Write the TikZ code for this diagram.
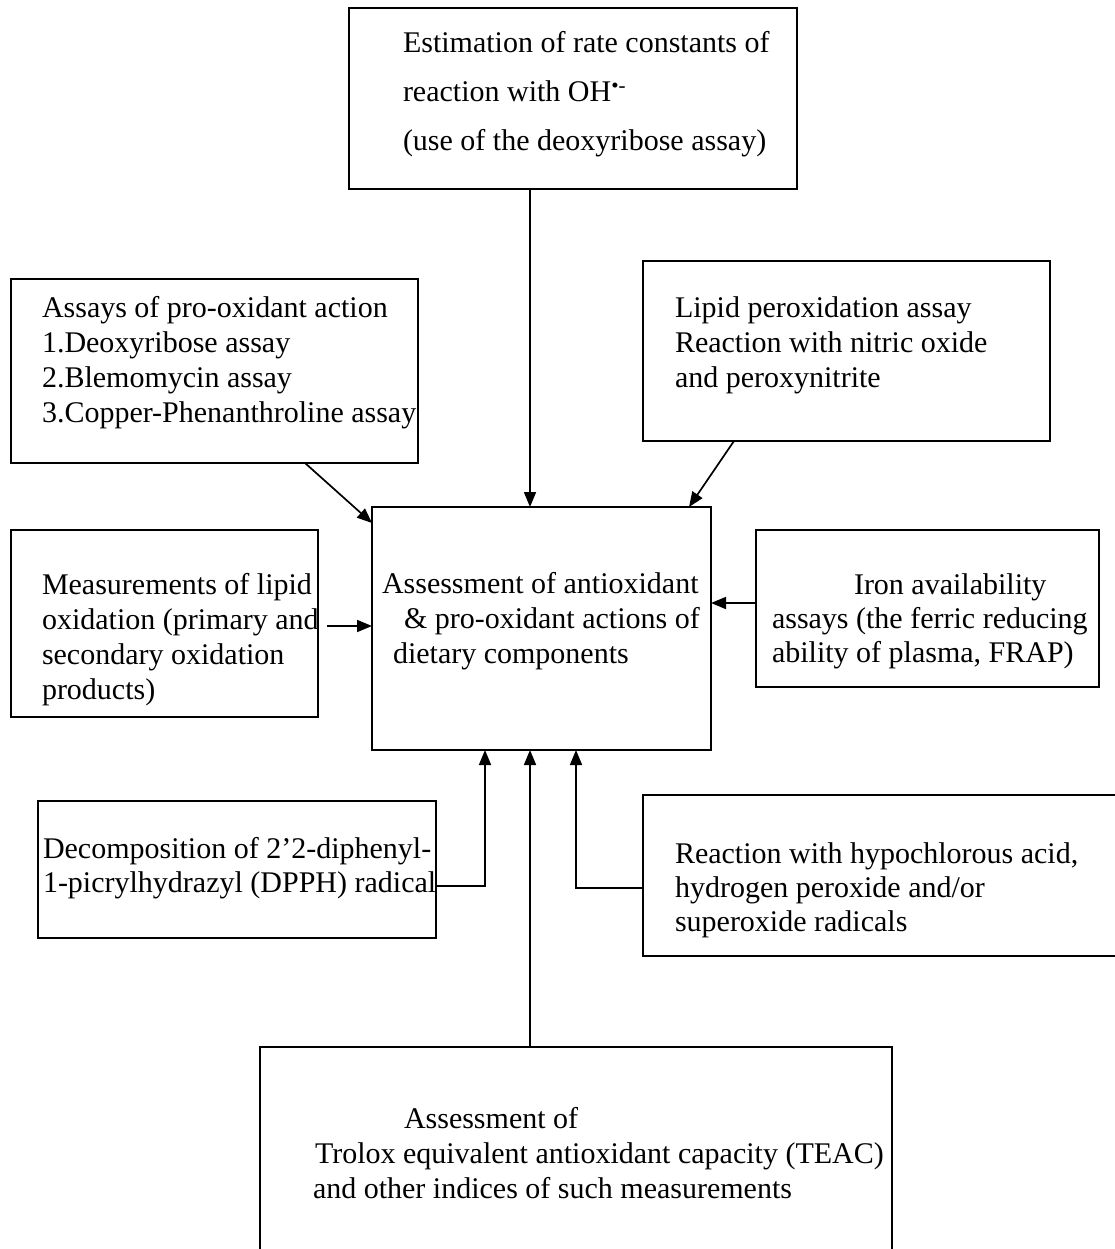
\documentclass[tikz,border=0pt]{standalone}
\usepackage{fontspec}
\setmainfont{Liberation Serif}
\usetikzlibrary{arrows.meta,calc}
\tikzset{
  box/.style={draw=black, line width=1.7pt, inner sep=0pt, outer sep=0pt, anchor=north west},
  txt/.style={inner sep=0pt, outer sep=0pt, anchor=base west, font=\fontsize{30}{35}\selectfont},
  arr/.style={draw=black, line width=1.7pt, -{Triangle[length=15pt,width=12pt]}},
  conn/.style={draw=black, line width=1.7pt}
}
\begin{document}
\begin{tikzpicture}[x=1pt,y=-1pt]
\useasboundingbox (0,0) rectangle (1114,1249);
% boxes
\node[box, minimum width=448pt, minimum height=181pt] (top) at (349,8) {};
\node[box, minimum width=407pt, minimum height=184pt] (assays) at (11,279) {};
\node[box, minimum width=407pt, minimum height=180pt] (lipid) at (643,261) {};
\node[box, minimum width=307pt, minimum height=187pt] (meas) at (11,530) {};
\node[box, minimum width=339pt, minimum height=243pt] (main) at (372,507) {};
\node[box, minimum width=343pt, minimum height=157pt] (iron) at (756,530) {};
\node[box, minimum width=398pt, minimum height=137pt] (decomp) at (38,801) {};
\node[box, minimum width=480pt, minimum height=161pt] (react) at (643,795) {};
\node[box, minimum width=632pt, minimum height=230pt] (bottom) at (260,1047) {};
% texts
\node[txt] (top1) at (403,53) {Estimation of rate constants of};
\node[txt] (top2) at (403,102) {reaction with OH\textsuperscript{•-}};
\node[txt] (top3) at (403,151) {(use of the deoxyribose assay)};
\node[txt] (as1) at (42,317) {Assays of pro-oxidant action};
\node[txt] (as2) at (42,352) {1.Deoxyribose assay};
\node[txt] (as3) at (42,387) {2.Blemomycin assay};
\node[txt] (as4) at (42,422) {3.Copper-Phenanthroline assay};
\node[txt] (li1) at (675,317) {Lipid peroxidation assay};
\node[txt] (li2) at (675,352) {Reaction with nitric oxide};
\node[txt] (li3) at (675,387) {and peroxynitrite};
\node[txt] (me1) at (42,594) {Measurements of lipid};
\node[txt] (me2) at (42,629) {oxidation (primary and};
\node[txt] (me3) at (42,664) {secondary oxidation};
\node[txt] (me4) at (42,699) {products)};
\node[txt] (ma1) at (382,593) {Assessment of antioxidant};
\node[txt] (ma2) at (404,628) {\& pro-oxidant actions of};
\node[txt] (ma3) at (393,663) {dietary components};
\node[txt] (ir1) at (854,594) {Iron availability};
\node[txt] (ir2) at (772,628) {assays (the ferric reducing};
\node[txt] (ir3) at (772,662) {ability of plasma, FRAP)};
\node[txt] (de1) at (43,858) {Decomposition of 2’2-diphenyl-};
\node[txt] (de2) at (43,892) {1-picrylhydrazyl (DPPH) radical};
\node[txt] (re1) at (675,863) {Reaction with hypochlorous acid,};
\node[txt] (re2) at (675,897) {hydrogen peroxide and/or};
\node[txt] (re3) at (675,931) {superoxide radicals};
\node[txt] (bo1) at (404,1128) {Assessment of};
\node[txt] (bo2) at (315,1163) {Trolox equivalent antioxidant capacity (TEAC)};
\node[txt] (bo3) at (313,1198) {and other indices of such measurements};
% helper coordinates
\coordinate (cx) at (530,0);
\coordinate (dx) at (485,0);
\coordinate (rx) at (576,0);
\coordinate (iy) at (0,603);
\coordinate (dy) at (0,886);
\coordinate (ry) at (0,888);
\coordinate (mstart) at (327,626);
% connectors
\draw[arr] (top.south -| cx) -- (main.north -| cx);
\draw[arr] ([xshift=294pt]assays.south west) -- ([yshift=-16pt]main.north west);
\draw[arr] ([xshift=91pt]lipid.south west) -- ([xshift=-22pt]main.north east);
\draw[arr] (mstart) -- (mstart -| main.west);
\draw[arr] (iron.west |- iy) -- (main.east |- iy);
\draw[arr] (decomp.east |- dy) -| (main.south -| dx);
\draw[arr] (react.west |- ry) -| (main.south -| rx);
\draw[arr] (bottom.north -| cx) -- (main.south -| cx);
\end{tikzpicture}
\end{document}
